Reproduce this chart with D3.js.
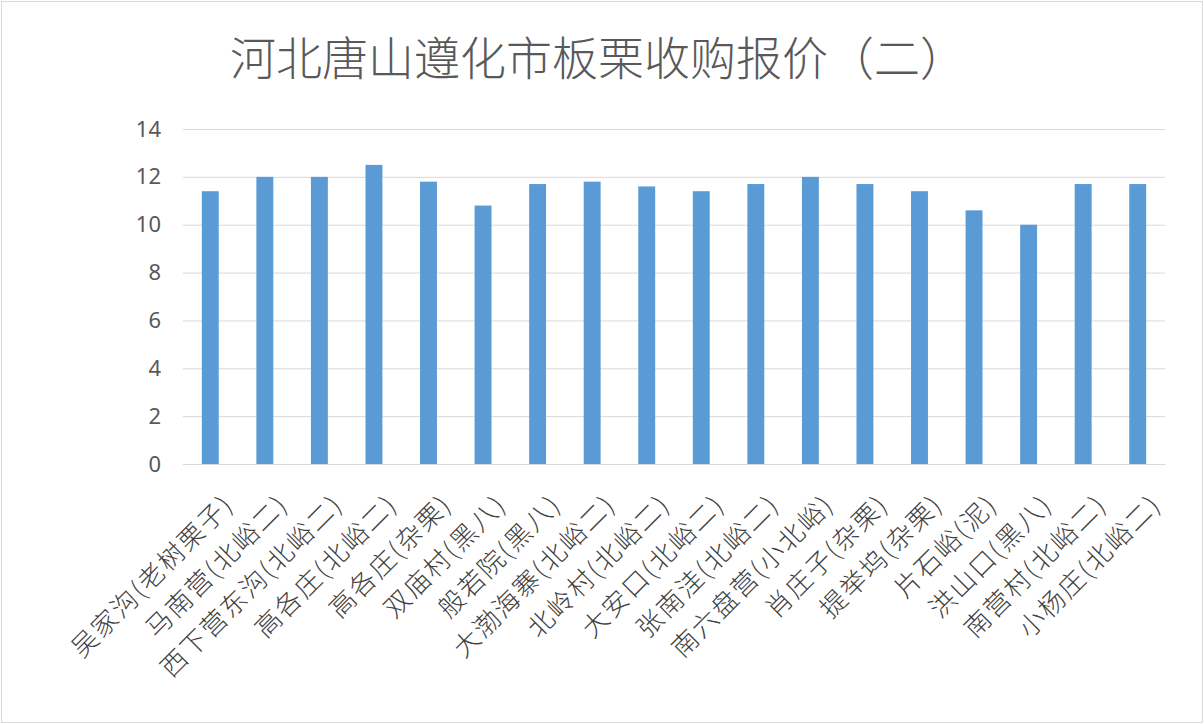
<!DOCTYPE html>
<html>
<head>
<meta charset="utf-8">
<script src="https://cdn.jsdelivr.net/npm/d3@7"></script>
<style>
  body { margin: 0; background: #fff; }
  svg { display: block; }
</style>
</head>
<body>
<svg width="1204" height="724"></svg>
<script>
const title = "河北唐山遵化市板栗收购报价（二）";
const places = [
  "吴家沟(老树栗子)", "马南营(北峪二)", "西下营东沟(北峪二)", "高各庄(北峪二)",
  "高各庄(杂栗)", "双庙村(黑八)", "般若院(黑八)", "大渤海寨(北峪二)",
  "北岭村(北峪二)", "大安口(北峪二)", "张南洼(北峪二)", "南六盘营(小北峪)",
  "肖庄子(杂栗)", "提举坞(杂栗)", "片石峪(泥)", "洪山口(黑八)",
  "南营村(北峪二)", "小杨庄(北峪二)"
];
const prices = [11.4, 12, 12, 12.5, 11.8, 10.8, 11.7, 11.8, 11.6, 11.4, 11.7, 12, 11.7, 11.4, 10.6, 10, 11.7, 11.7];
const yTicks = [0, 2, 4, 6, 8, 10, 12, 14];

var svg = d3.select("svg");
var width = +svg.attr("width");
var height = +svg.attr("height");

var margin = { top: 129, right: 39, bottom: 260, left: 183 };
var innerWidth = width - margin.left - margin.right;
var innerHeight = height - margin.top - margin.bottom;

// chart area border
svg.append("rect")
  .attr("x", 1.5).attr("y", 1.5)
  .attr("width", width - 3).attr("height", height - 3)
  .attr("fill", "#fff").attr("stroke", "#d9d9d9");

svg.append("text")
  .attr("x", 598).attr("y", 75)
  .attr("text-anchor", "middle")
  .attr("font-family", "Noto Sans CJK SC")
  .attr("font-weight", 300)
  .attr("font-size", 46)
  .attr("fill", "#595959")
  .text(title);

const xScale = d3.scaleBand()
  .domain(places)
  .range([0, innerWidth])
  .paddingInner(0.69)
  .paddingOuter(0.345);

const yScale = d3.scaleLinear()
  .domain([0, 14])
  .range([innerHeight, 0]);

const g = svg.append("g")
  .attr("transform", `translate(${margin.left}, ${margin.top})`);

// gridlines + y labels
const yAxis = g.append("g")
  .call(d3.axisLeft(yScale).tickValues(yTicks).tickSize(-innerWidth).tickPadding(22));
yAxis.select(".domain").remove();
yAxis.selectAll(".tick line").attr("stroke", "#d9d9d9").attr("stroke-width", 1);
yAxis.selectAll(".tick text")
  .attr("font-family", "Noto Sans, sans-serif")
  .attr("font-size", 22)
  .attr("fill", "#595959");

g.selectAll("rect.bar")
  .data(places)
  .enter()
  .append("rect")
  .attr("class", "bar")
  .attr("x", (d) => xScale(d))
  .attr("y", (d, i) => yScale(prices[i]))
  .attr("width", xScale.bandwidth())
  .attr("height", (d, i) => innerHeight - yScale(prices[i]))
  .attr("fill", "#5b9bd5");

// x axis
const xAxis = g.append("g")
  .attr("transform", `translate(0, ${innerHeight})`)
  .call(d3.axisBottom(xScale).tickSize(0).tickPadding(0));
xAxis.select(".domain").attr("stroke", "#d9d9d9");
xAxis.selectAll(".tick text")
  .attr("font-family", "Noto Sans CJK SC")
  .attr("font-weight", 300)
  .attr("font-size", 26)
  .attr("letter-spacing", "2px")
  .attr("fill", "#404040")
  .attr("text-anchor", "end")
  .attr("dy", 0)
  .attr("transform", "translate(25, 42) rotate(-45)");
</script>
</body>
</html>
